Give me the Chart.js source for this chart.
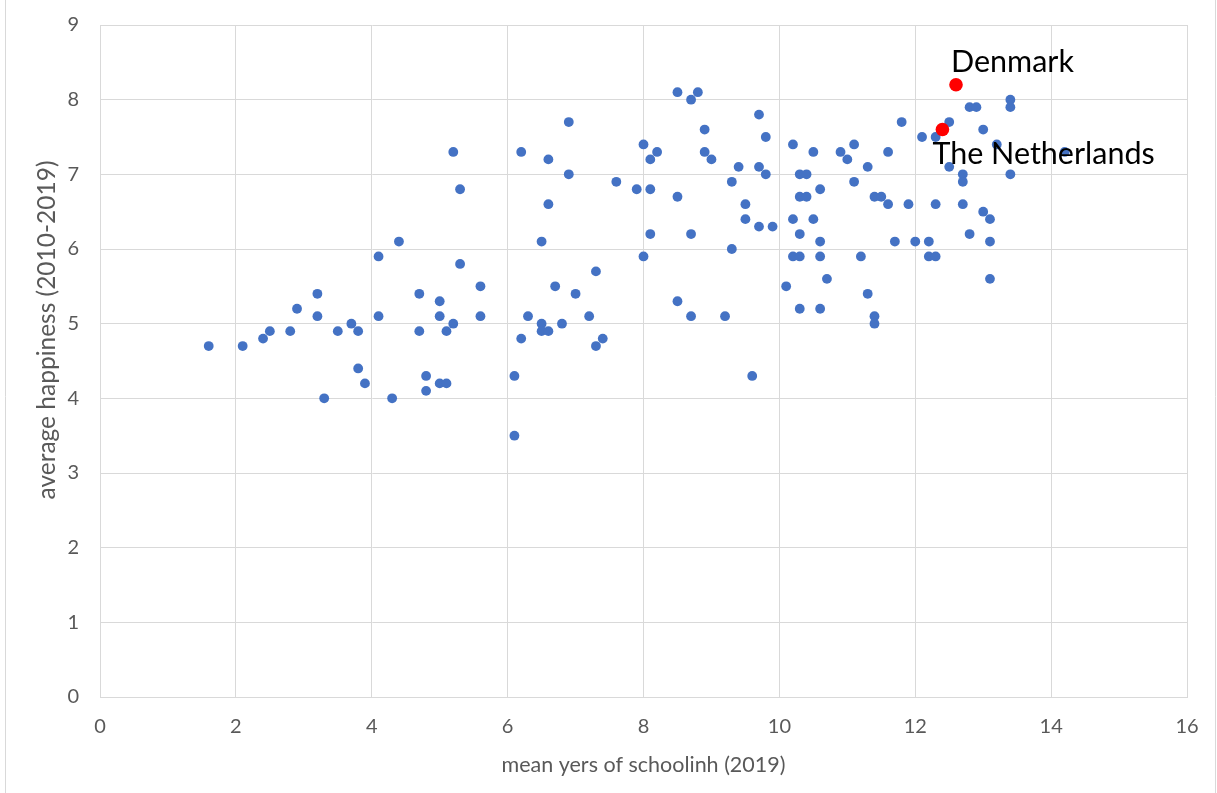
<!DOCTYPE html>
<html>
<head>
<meta charset="utf-8">
<script src="https://cdn.jsdelivr.net/npm/chart.js@4.4.1/dist/chart.umd.min.js"></script>
<style>
    html, body { margin: 0; padding: 0; background: #fff; }
    #wrap { width: 1217px; height: 793px; position: relative; }
</style>
</head>
<body>
<div id="wrap"><canvas id="scatterChart" width="1217" height="793"></canvas></div>
<script>
// mean years of schooling (2019)
const schooling = [
    1.6, 2.1, 2.4, 2.5, 2.8, 2.9, 3.2, 3.2, 3.3, 3.5, 3.7, 3.8, 3.8, 3.9, 4.1, 4.1, 4.3, 4.4,
    4.7, 4.7, 4.8, 4.8, 5.0, 5.0, 5.0, 5.1, 5.1, 5.2, 5.2, 5.3, 5.3, 5.6, 5.6, 6.1, 6.1, 6.2,
    6.2, 6.3, 6.5, 6.5, 6.5, 6.6, 6.6, 6.6, 6.7, 6.8, 6.9, 6.9, 7.0, 7.2, 7.3, 7.3, 7.4, 7.6,
    7.9, 8.0, 8.0, 8.1, 8.1, 8.1, 8.2, 8.5, 8.5, 8.5, 8.7, 8.7, 8.7, 8.8, 8.9, 8.9, 9.0, 9.2,
    9.3, 9.3, 9.4, 9.5, 9.5, 9.6, 9.7, 9.7, 9.7, 9.8, 9.8, 9.9, 10.1, 10.2, 10.2, 10.2, 10.3,
    10.3, 10.3, 10.3, 10.3, 10.4, 10.4, 10.5, 10.5, 10.6, 10.6, 10.6, 10.6, 10.7, 10.9, 11.0,
    11.1, 11.1, 11.2, 11.3, 11.3, 11.4, 11.4, 11.4, 11.5, 11.6, 11.6, 11.7, 11.8, 11.9, 12.0,
    12.1, 12.2, 12.2, 12.3, 12.3, 12.3, 12.5, 12.5, 12.7, 12.7, 12.7, 12.8, 12.8, 12.9, 13.0,
    13.0, 13.1, 13.1, 13.1, 13.2, 13.4, 13.4, 13.4, 14.2
];
// average happiness (2010-2019), same order
const happiness = [
    4.7, 4.7, 4.8, 4.9, 4.9, 5.2, 5.4, 5.1, 4.0, 4.9, 5.0, 4.9, 4.4, 4.2, 5.9, 5.1, 4.0, 6.1,
    5.4, 4.9, 4.3, 4.1, 5.3, 5.1, 4.2, 4.2, 4.9, 7.3, 5.0, 6.8, 5.8, 5.5, 5.1, 4.3, 3.5, 7.3,
    4.8, 5.1, 6.1, 5.0, 4.9, 7.2, 6.6, 4.9, 5.5, 5.0, 7.7, 7.0, 5.4, 5.1, 5.7, 4.7, 4.8, 6.9,
    6.8, 7.4, 5.9, 7.2, 6.8, 6.2, 7.3, 8.1, 6.7, 5.3, 8.0, 6.2, 5.1, 8.1, 7.6, 7.3, 7.2, 5.1,
    6.9, 6.0, 7.1, 6.6, 6.4, 4.3, 7.8, 7.1, 6.3, 7.5, 7.0, 6.3, 5.5, 7.4, 6.4, 5.9, 7.0,
    6.7, 6.2, 5.9, 5.2, 7.0, 6.7, 7.3, 6.4, 6.8, 6.1, 5.9, 5.2, 5.6, 7.3, 7.2,
    7.4, 6.9, 5.9, 7.1, 5.4, 6.7, 5.1, 5.0, 6.7, 7.3, 6.6, 6.1, 7.7, 6.6, 6.1,
    7.5, 6.1, 5.9, 7.5, 6.6, 5.9, 7.7, 7.1, 7.0, 6.9, 6.6, 7.9, 6.2, 7.9, 7.6,
    6.5, 6.4, 6.1, 5.6, 7.4, 8.0, 7.9, 7.0, 7.3
];

// highlighted countries
const highlightNames = ['Denmark', 'The Netherlands'];
const highlightSchooling = [12.6, 12.4];
const highlightHappiness = [8.2, 7.6];

const xTicks = [0, 2, 4, 6, 8, 10, 12, 14, 16];
const yTicks = [0, 1, 2, 3, 4, 5, 6, 7, 8, 9];

const xTitle = 'mean yers of schoolinh (2019)';
const yTitle = 'average happiness (2010-2019)';

const FONT = 'Lato, "Open Sans", sans-serif';
const GRAY = '#595959';
const GRID = '#d9d9d9';

// label offsets for the two highlighted points (relative to the marker)
const labelOffsets = [{ dx: -5, dy: -13 }, { dx: -10, dy: 34 }];

const drawExtras = {
    id: 'drawExtras',
    beforeDraw(chart) {
        const ctx = chart.ctx;
        ctx.save();
        ctx.strokeStyle = GRID;
        ctx.lineWidth = 1;
        ctx.beginPath();
        ctx.moveTo(5.5, 0);
        ctx.lineTo(5.5, chart.height);
        ctx.moveTo(1215.5, 0);
        ctx.lineTo(1215.5, chart.height);
        ctx.stroke();
        ctx.restore();
    },
    afterDraw(chart) {
        const ctx = chart.ctx;
        const xs = chart.scales.x;
        const ys = chart.scales.y;

        // y axis title
        ctx.save();
        ctx.translate(47, 330);
        ctx.rotate(-Math.PI / 2);
        ctx.font = '24.5px ' + FONT;
        ctx.fillStyle = GRAY;
        ctx.textAlign = 'center';
        ctx.textBaseline = 'middle';
        ctx.fillText(yTitle, 0, 0);
        ctx.restore();

        // data labels
        ctx.save();
        ctx.font = '30.5px ' + FONT;
        ctx.fillStyle = '#000';
        ctx.textAlign = 'left';
        ctx.textBaseline = 'alphabetic';
        for (let i = 0; i < highlightNames.length; i++) {
            const px = xs.getPixelForValue(highlightSchooling[i]);
            const py = ys.getPixelForValue(highlightHappiness[i]);
            ctx.fillText(highlightNames[i], px + labelOffsets[i].dx, py + labelOffsets[i].dy);
        }
        ctx.restore();
    }
};

const ctx = document.getElementById('scatterChart').getContext('2d');
new Chart(ctx, {
    type: 'scatter',
    data: {
        datasets: [
            {
                label: 'highlight',
                data: highlightSchooling.map((x, i) => ({ x: x, y: highlightHappiness[i] })),
                backgroundColor: '#ff0000',
                borderWidth: 0,
                pointRadius: 6.8
            },
            {
                label: 'countries',
                data: schooling.map((x, i) => ({ x: x, y: happiness[i] })),
                backgroundColor: '#4472c4',
                borderWidth: 0,
                pointRadius: 4.9
            }
        ]
    },
    options: {
        responsive: false,
        animation: false,
        layout: { padding: { left: 0, right: 30, top: 25, bottom: 0 } },
        plugins: {
            legend: { display: false },
            tooltip: { enabled: false }
        },
        scales: {
            x: {
                type: 'linear',
                min: 0,
                max: 16,
                afterFit: (scale) => {
                    scale.height = 96;
                    scale.paddingLeft = 0;
                    scale.paddingRight = 0;
                },
                afterBuildTicks: (scale) => { scale.ticks = xTicks.map(v => ({ value: v })); },
                ticks: { color: GRAY, font: { family: FONT, size: 20 }, padding: 18 },
                grid: { color: GRID, drawTicks: false },
                border: { color: GRID },
                title: {
                    display: true,
                    text: xTitle,
                    color: GRAY,
                    font: { family: FONT, size: 21.5 },
                    padding: { top: 0, bottom: 15 }
                }
            },
            y: {
                type: 'linear',
                min: 0,
                max: 9,
                afterFit: (scale) => {
                    scale.width = 100;
                    scale.paddingTop = 0;
                    scale.paddingBottom = 0;
                },
                afterBuildTicks: (scale) => { scale.ticks = yTicks.map(v => ({ value: v })); },
                ticks: { color: GRAY, font: { family: FONT, size: 20 }, padding: 21 },
                grid: { color: GRID, drawTicks: false },
                border: { color: GRID }
            }
        }
    },
    plugins: [drawExtras]
});
</script>
</body>
</html>
